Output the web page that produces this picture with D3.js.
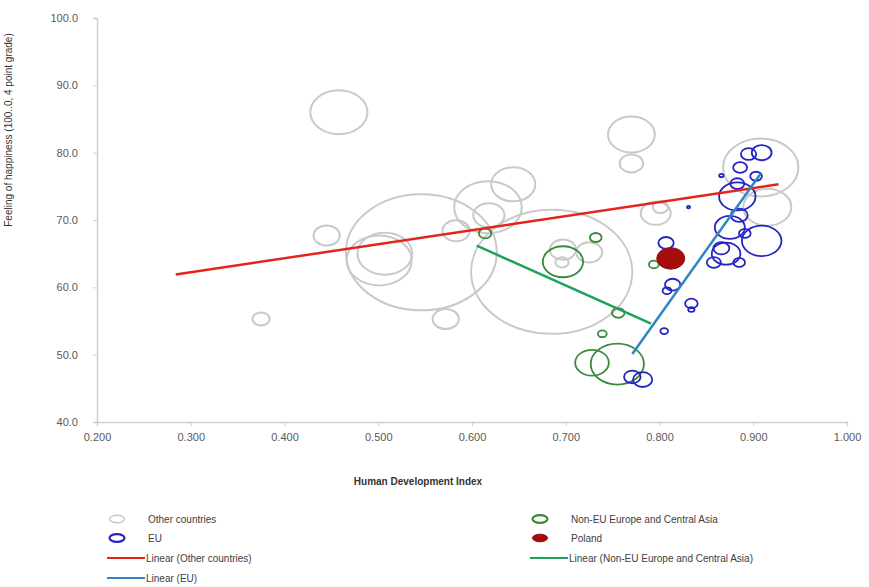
<!DOCTYPE html>
<html>
<head>
<meta charset="utf-8">
<script src="https://cdn.jsdelivr.net/npm/d3@7/dist/d3.min.js"></script>
<style>
  body { margin: 0; background: #fff; }
  svg { font-family: "Liberation Sans", Arial, sans-serif; }
</style>
</head>
<body>
<div id="chart"></div>
<script>
// each bubble: [HDI, happiness, size (population, millions)]
const otherCountries = [
  [0.458, 86.0, 167], [0.546, 65.2, 1164], [0.685, 62.3, 1330], [0.501, 64.0, 216],
  [0.507, 65.0, 153], [0.445, 67.7, 35], [0.375, 55.3, 15], [0.572, 55.3, 35],
  [0.617, 71.9, 234], [0.644, 75.3, 100], [0.618, 70.7, 50], [0.583, 68.4, 38],
  [0.770, 82.7, 112], [0.770, 78.4, 28], [0.796, 71.0, 46], [0.801, 71.9, 12],
  [0.908, 77.8, 290], [0.915, 71.9, 118], [0.697, 65.6, 35], [0.725, 65.2, 35],
  [0.696, 63.7, 9]
];
const nonEU = [
  [0.697, 63.8, 83], [0.732, 67.4, 7], [0.614, 68.0, 8], [0.756, 56.2, 8],
  [0.739, 53.1, 4], [0.755, 48.6, 145], [0.728, 48.8, 58], [0.794, 63.4, 5]
];
const eu = [
  [0.807, 66.6, 12], [0.814, 60.4, 12], [0.808, 59.5, 4], [0.834, 57.6, 8],
  [0.834, 56.7, 2], [0.805, 53.5, 3], [0.771, 46.7, 14], [0.782, 46.3, 19],
  [0.895, 79.8, 12], [0.909, 80.0, 20], [0.886, 77.8, 10], [0.866, 76.6, 1],
  [0.903, 76.5, 7], [0.883, 73.5, 68], [0.883, 75.4, 10], [0.885, 70.7, 15],
  [0.875, 68.9, 46], [0.909, 66.9, 80], [0.871, 65.0, 42], [0.866, 65.8, 13],
  [0.858, 63.7, 10], [0.885, 63.7, 7], [0.891, 68.0, 7], [0.831, 71.9, 0.5]
];
const poland = [[0.812, 64.3, 40]];

// linear trend lines: [HDI, happiness] at both ends
const trendOther = [[0.284, 61.9], [0.927, 75.3]];
const trendNonEU = [[0.605, 66.2], [0.791, 54.6]];
const trendEU = [[0.771, 50.1], [0.908, 76.9]];

const xTicks = [0.2, 0.3, 0.4, 0.5, 0.6, 0.7, 0.8, 0.9, 1.0];
const yTicks = [40, 50, 60, 70, 80, 90, 100];

const W = 869, H = 587;
const svg = d3.select('#chart').append('svg')
    .attr('width', W)
    .attr('height', H);

const x = d3.scaleLinear().domain([0.2, 1.0]).range([97, 847]);
const y = d3.scaleLinear().domain([40, 100]).range([422, 18]);
const r = d3.scaleSqrt().domain([0, 1330]).range([0, 62]);
const stretch = 1.3; // bubbles look wider than tall in the picture

// axes
const xAxis = svg.append('g')
    .attr('transform', 'translate(0,422)')
    .call(d3.axisBottom(x).tickValues(xTicks).tickSize(4).tickFormat(d3.format('.3f')));
const yAxis = svg.append('g')
    .attr('transform', 'translate(97,0)')
    .call(d3.axisLeft(y).tickValues(yTicks).tickSize(4).tickFormat(d3.format('.1f')));

[xAxis, yAxis].forEach(a => {
  a.select('.domain').attr('stroke', '#cfcfcf').attr('stroke-width', 1.5);
  a.selectAll('.tick line').attr('stroke', '#cfcfcf');
  a.selectAll('.tick text').attr('fill', '#5a5a5a').style('font-size', '11px');
});
xAxis.selectAll('.tick text').attr('dy', '1.1em');
yAxis.selectAll('.tick text').attr('x', -19);

// axis titles
svg.append('text')
    .attr('transform', 'translate(12,130) rotate(-90)')
    .attr('text-anchor', 'middle')
    .style('font-size', '10px')
    .attr('fill', '#333')
    .text('Feeling of happiness (100..0, 4 point grade)');

svg.append('text')
    .attr('x', 418).attr('y', 485)
    .attr('text-anchor', 'middle')
    .style('font-size', '10px')
    .style('font-weight', 'bold')
    .attr('fill', '#333')
    .text('Human Development Index');

// bubbles
function bubbles(data, stroke, fill, width) {
  svg.append('g').selectAll('ellipse')
    .data(data)
    .enter()
    .append('ellipse')
    .attr('cx', d => x(d[0]))
    .attr('cy', d => y(d[1]))
    .attr('rx', d => Math.max(r(d[2]) * stretch, 1.5))
    .attr('ry', d => Math.max(r(d[2]), 1.2))
    .attr('fill', fill)
    .attr('stroke', stroke)
    .attr('stroke-width', width);
}

bubbles(otherCountries, '#c9c9c9', 'none', 2);
bubbles(nonEU, '#3a8a3a', 'none', 1.8);
bubbles(eu, '#2424c4', 'none', 1.8);
bubbles(poland, '#8c1010', '#a50d0d', 1);

// trend lines
const line = d3.line().x(d => x(d[0])).y(d => y(d[1]));
[[trendOther, '#e3241b'], [trendNonEU, '#1fa35c'], [trendEU, '#2f86c6']].forEach(t => {
  svg.append('path')
    .attr('d', line(t[0]))
    .attr('fill', 'none')
    .attr('stroke', t[1])
    .attr('stroke-width', 2.5);
});

// legend
const legend = svg.append('g').style('font-size', '10px').attr('fill', '#404040');
const legendItems = [
  { label: 'Other countries', kind: 'bubble', stroke: '#c9c9c9', fill: 'none', w: 1.5, lx: 117, row: 0 },
  { label: 'Non-EU Europe and Central Asia', kind: 'bubble', stroke: '#3a8a3a', fill: 'none', w: 2.2, lx: 540, row: 0 },
  { label: 'EU', kind: 'bubble', stroke: '#2424c4', fill: 'none', w: 2.2, lx: 117, row: 1 },
  { label: 'Poland', kind: 'bubble', stroke: '#8c1010', fill: '#a50d0d', w: 1, lx: 540, row: 1 },
  { label: 'Linear (Other countries)', kind: 'line', stroke: '#e3241b', lx: 117, row: 2 },
  { label: 'Linear (Non-EU Europe and Central Asia)', kind: 'line', stroke: '#1fa35c', lx: 540, row: 2 },
  { label: 'Linear (EU)', kind: 'line', stroke: '#2f86c6', lx: 117, row: 3 }
];
const rowY = [519, 538, 558, 578];

legendItems.forEach(it => {
  const cy = rowY[it.row];
  if (it.kind === 'bubble') {
    legend.append('ellipse')
      .attr('cx', it.lx).attr('cy', cy)
      .attr('rx', 7.5).attr('ry', 3.8)
      .attr('fill', it.fill)
      .attr('stroke', it.stroke)
      .attr('stroke-width', it.w);
  } else {
    legend.append('line')
      .attr('x1', it.lx - 10).attr('x2', it.lx + 28)
      .attr('y1', cy).attr('y2', cy)
      .attr('stroke', it.stroke)
      .attr('stroke-width', 2);
  }
  legend.append('text')
    .attr('x', it.kind === 'bubble' ? it.lx + 31 : it.lx + 29)
    .attr('y', cy + 3.5)
    .text(it.label);
});
</script>
</body>
</html>
